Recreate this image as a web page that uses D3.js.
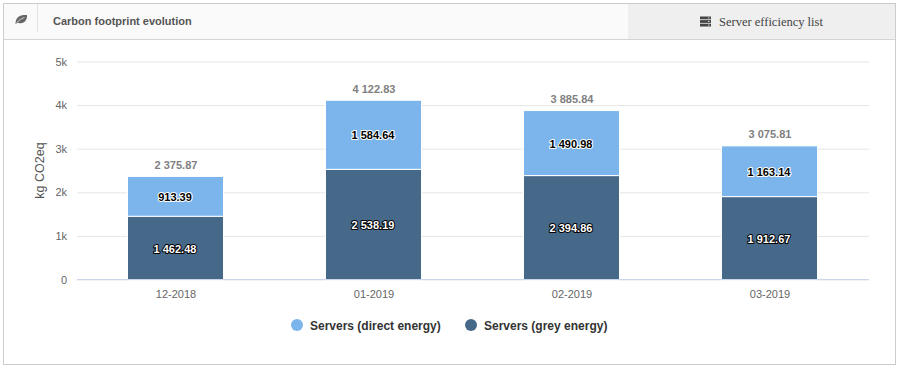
<!DOCTYPE html>
<html>
<head>
<meta charset="utf-8">
<title>Carbon footprint evolution</title>
<script src="https://cdn.jsdelivr.net/npm/d3@7"></script>
<style>
  html, body { margin: 0; padding: 0; background: #fff; }
  svg { display: block; font-family: "Liberation Sans", Arial, sans-serif; }
</style>
</head>
<body>
<svg id="chart" width="899" height="368"></svg>
<script>
const months = ['12-2018', '01-2019', '02-2019', '03-2019'];
const greyEnergy = [1462.48, 2538.19, 2394.86, 1912.67];
const directEnergy = [913.39, 1584.64, 1490.98, 1163.14];
const totals = [2375.87, 4122.83, 3885.84, 3075.81];
const yTicks = [0, 1000, 2000, 3000, 4000, 5000];
const seriesNames = ['Servers (direct energy)', 'Servers (grey energy)'];
const seriesColors = ['#7cb5ec', '#466889'];

const svg = d3.select('#chart');

// Space as thousands separator, like the original labels
const fmt = v => {
  const parts = v.toFixed(2).split('.');
  return parts[0].replace(/\B(?=(\d{3})+$)/g, ' ') + '.' + parts[1];
};

// Panel frame and header
svg.append('rect').attr('x', 3.5).attr('y', 3.5).attr('width', 892).attr('height', 361)
  .attr('fill', '#fff').attr('stroke', '#cccccc');
svg.append('rect').attr('x', 4).attr('y', 4).attr('width', 624).attr('height', 35).attr('fill', '#fafafa');
svg.append('rect').attr('x', 628).attr('y', 4).attr('width', 267).attr('height', 35).attr('fill', '#efefef');
svg.append('line').attr('x1', 4).attr('x2', 895).attr('y1', 39.5).attr('y2', 39.5).attr('stroke', '#d4d4d4');
svg.append('line').attr('x1', 37.5).attr('x2', 37.5).attr('y1', 4).attr('y2', 32).attr('stroke', '#e2e2e2');

// Leaf icon
svg.append('path')
  .attr('d', 'M15.5 23 C16 17 20 14.5 27 15 C27.5 20 24 24.5 18.5 23 C18 22.7 17.5 22.6 17 22.8 L15.8 24.2 Z')
  .attr('fill', '#666');
svg.append('path')
  .attr('d', 'M17 22.5 C19 20 21.5 18.5 24.5 17.5')
  .attr('fill', 'none').attr('stroke', '#fafafa').attr('stroke-width', 0.7);

svg.append('text').attr('x', 53).attr('y', 25).attr('font-size', 11).attr('font-weight', 'bold')
  .attr('fill', '#555').text('Carbon footprint evolution');

// Server list icon
[0, 1, 2].forEach(i => {
  svg.append('rect').attr('x', 700).attr('y', 16.5 + i * 3.6).attr('width', 11).attr('height', 2.8).attr('fill', '#444');
  svg.append('rect').attr('x', 708).attr('y', 17.4 + i * 3.6).attr('width', 1.5).attr('height', 1).attr('fill', '#ddd');
});
svg.append('text').attr('x', 719).attr('y', 26).attr('font-size', 12.5)
  .attr('font-family', '"Liberation Serif", "Times New Roman", serif')
  .attr('fill', '#444').text('Server efficiency list');

// Scales
const x = d3.scaleBand().domain(months).range([77, 869]).paddingInner(0.52).paddingOuter(0.26);
const y = d3.scaleLinear().domain([0, 5000]).range([279.5, 61.5]);

// Y axis and gridlines
const yAxis = svg.append('g').attr('transform', 'translate(77,0)')
  .call(d3.axisLeft(y).tickValues(yTicks).tickSize(-792).tickPadding(10)
    .tickFormat(d => d === 0 ? '0' : d / 1000 + 'k'));
yAxis.select('.domain').remove();
yAxis.selectAll('line').attr('stroke', '#e6e6e6');
yAxis.selectAll('text').attr('font-size', 11).attr('fill', '#666').attr('font-family', '"Liberation Sans", Arial, sans-serif');

svg.append('text').attr('transform', 'translate(43.5,170.5) rotate(-90)').attr('text-anchor', 'middle')
  .attr('font-size', 12.5).attr('fill', '#555').text('kg CO2eq');

// Stacked bars, white separator like highcharts
const stack = months.map((m, i) => ({ m, grey: greyEnergy[i], direct: directEnergy[i], total: totals[i] }));

function addBar(value, base, color) {
  return g => g.append('rect')
    .attr('x', d => x(d.m) - 1)
    .attr('width', x.bandwidth() + 1)
    .attr('y', d => y(base(d) + value(d)) + 0.5)
    .attr('height', d => y(base(d)) - y(base(d) + value(d)))
    .attr('fill', color)
    .attr('stroke', '#fff')
    .attr('stroke-width', 1);
}

const bars = svg.selectAll('.bar').data(stack).enter().append('g').attr('class', 'bar');
bars.call(addBar(d => d.grey, () => 0, seriesColors[1]));
bars.call(addBar(d => d.direct, d => d.grey, seriesColors[0]));

// Axis line on top of the bar feet
svg.append('line').attr('x1', 77).attr('x2', 869).attr('y1', 279.5).attr('y2', 279.5).attr('stroke', '#ccd6eb');

// Value labels, contrast outline: black on the light bars, white on the dark ones
function addValueLabel(value, base, fill, outline) {
  bars.append('text')
    .attr('x', d => x(d.m) + x.bandwidth() / 2 - 1)
    .attr('y', d => y(base(d) + value(d) / 2) + 5)
    .attr('text-anchor', 'middle')
    .attr('font-size', 11).attr('font-weight', 'bold')
    .attr('fill', fill).attr('stroke', outline).attr('stroke-width', 2)
    .attr('stroke-linejoin', 'round').attr('paint-order', 'stroke')
    .text(d => fmt(value(d)));
}
addValueLabel(d => d.grey, () => 0, '#fff', '#000');
addValueLabel(d => d.direct, d => d.grey, '#000', '#fff');

// Totals above each stack
bars.append('text')
  .attr('x', d => x(d.m) + x.bandwidth() / 2)
  .attr('y', d => y(d.total) - 7)
  .attr('text-anchor', 'middle')
  .attr('font-size', 11).attr('font-weight', 'bold').attr('fill', '#7f7f7f')
  .text(d => fmt(d.total));

// Month labels
svg.selectAll('.month').data(months).enter().append('text')
  .attr('class', 'month')
  .attr('x', d => x(d) + x.bandwidth() / 2)
  .attr('y', 298)
  .attr('text-anchor', 'middle')
  .attr('font-size', 11).attr('fill', '#666')
  .text(d => d);

// Legend
const legendX = [297, 471];
seriesNames.forEach((name, i) => {
  svg.append('circle').attr('cx', legendX[i]).attr('cy', 325).attr('r', 6).attr('fill', seriesColors[i]);
  svg.append('text').attr('x', legendX[i] + 13).attr('y', 329.5)
    .attr('font-size', 12).attr('font-weight', 'bold').attr('fill', '#333').text(name);
});
</script>
</body>
</html>
